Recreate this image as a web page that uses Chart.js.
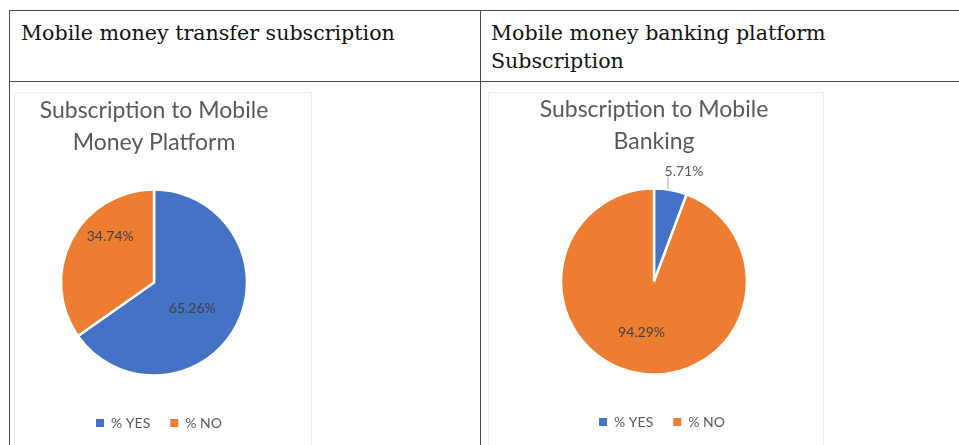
<!DOCTYPE html>
<html>
<head>
<meta charset="utf-8">
<script src="https://cdn.jsdelivr.net/npm/chart.js@4/dist/chart.umd.min.js"></script>
<style>
  html, body { margin: 0; padding: 0; background: #fff; }
  #page { position: relative; width: 959px; height: 445px; overflow: hidden; background: #fff; }
  .rule { position: absolute; background: #4a4a4a; }
  .head { position: absolute; font-family: "DejaVu Serif", serif; font-size: 20.6px; line-height: 28px; color: #111; white-space: nowrap; }
  .frame { position: absolute; border: 1px solid #efefef; background: #fff; }
  canvas.pie { position: absolute; filter: blur(0.6px); }
</style>
</head>
<body>
<div id="page">
  <!-- table rules -->
  <div class="rule" style="left:9px; top:10px; width:950px; height:1px;"></div>
  <div class="rule" style="left:9px; top:81px; width:950px; height:1px;"></div>
  <div class="rule" style="left:9px; top:10px; width:1px; height:435px;"></div>
  <div class="rule" style="left:480px; top:10px; width:1px; height:435px;"></div>

  <!-- header cells -->
  <div class="head" id="headLeft" style="left:21px; top:19px;"></div>
  <div class="head" id="headRight" style="left:491px; top:19px;"></div>

  <!-- chart picture frames -->
  <div class="frame" style="left:14px; top:92px; width:296px; height:360px;"></div>
  <div class="frame" style="left:488px; top:92px; width:334px; height:360px;"></div>

  <canvas class="pie" id="pieMoney" width="280" height="348" style="left:14px; top:92px;"></canvas>
  <canvas class="pie" id="pieBanking" width="280" height="348" style="left:514px; top:91px;"></canvas>
</div>

<script>
// Table header texts
const headerTexts = [
  ['Mobile money transfer subscription'],
  ['Mobile money banking platform', 'Subscription']
];

// Pie data
const categories = ['% YES', '% NO'];
const moneyPlatformShares = [65.26, 34.74];
const mobileBankingShares = [5.71, 94.29];
const moneyPlatformTitle = ['Subscription to Mobile', 'Money Platform'];
const mobileBankingTitle = ['Subscription to Mobile', 'Banking'];
const sliceColors = ['#4472C4', '#ED7D31'];

document.getElementById('headLeft').innerHTML = headerTexts[0].join('<br>');
document.getElementById('headRight').innerHTML = headerTexts[1].join('<br>');

// Draws each slice's percentage; placement is given per slice as
// a fraction along the slice's sweep (t) and of the radius (f).
const sliceLabels = {
  id: 'sliceLabels',
  afterDatasetsDraw(chart, args, opts) {
    const ctx = chart.ctx;
    const meta = chart.getDatasetMeta(0);
    const values = chart.data.datasets[0].data;
    ctx.save();
    ctx.font = '14px Lato, "Open Sans", sans-serif';
    ctx.textAlign = 'center';
    ctx.textBaseline = 'middle';
    meta.data.forEach((arc, i) => {
      const p = arc.getProps(['x', 'y', 'startAngle', 'endAngle', 'outerRadius'], true);
      const place = opts.places[i];
      const a = p.startAngle + place.t * (p.endAngle - p.startAngle);
      const text = values[i].toFixed(2) + '%';
      if (place.outside) {
        const ex = p.x + Math.cos(a) * p.outerRadius;
        const ey = p.y + Math.sin(a) * p.outerRadius;
        const topY = ey - 13;
        ctx.strokeStyle = '#a6a6a6';
        ctx.lineWidth = 1;
        ctx.beginPath();
        ctx.moveTo(ex, ey - 1);
        ctx.lineTo(ex, topY);
        ctx.stroke();
        ctx.fillStyle = '#595959';
        ctx.fillText(text, ex + 16, topY - 5);
      } else {
        const r = place.f * p.outerRadius;
        ctx.fillStyle = '#404040';
        ctx.fillText(text, p.x + Math.cos(a) * r, p.y + Math.sin(a) * r);
      }
    });
    ctx.restore();
  }
};

// Nudges the legend row sideways by a few pixels.
const legendShift = {
  id: 'legendShift',
  afterLayout(chart, args, opts) {
    if (chart.legend) {
      chart.legend.left += opts.dx;
      chart.legend.right += opts.dx;
    }
  }
};

function makePie(id, values, title, places, legendDx) {
  return new Chart(document.getElementById(id), {
    type: 'pie',
    data: {
      labels: categories,
      datasets: [{
        data: values,
        backgroundColor: sliceColors,
        borderColor: '#ffffff',
        borderWidth: 2.5
      }]
    },
    options: {
      responsive: false,
      animation: false,
      radius: 93,
      layout: { padding: 0 },
      plugins: {
        title: {
          display: true,
          text: title,
          color: '#595959',
          font: { family: 'Lato, "Open Sans", sans-serif', size: 23, weight: 'normal', lineHeight: 1.37 },
          padding: { top: 3, bottom: 11 }
        },
        legend: {
          position: 'bottom',
          labels: {
            color: '#595959',
            font: { family: 'Lato, "Open Sans", sans-serif', size: 14 },
            boxWidth: 8,
            boxHeight: 8,
            padding: 20,
            generateLabels(chart) {
              const items = Chart.overrides.pie.plugins.legend.labels.generateLabels(chart);
              items.forEach(it => { it.lineWidth = 0; it.strokeStyle = 'rgba(0,0,0,0)'; });
              return items;
            }
          }
        },
        tooltip: { enabled: false },
        sliceLabels: { places },
        legendShift: { dx: legendDx }
      }
    },
    plugins: [sliceLabels, legendShift]
  });
}

makePie('pieMoney', moneyPlatformShares, moneyPlatformTitle,
  [{ t: 0.53, f: 0.5 }, { t: 0.65, f: 0.68 }], 5);
makePie('pieBanking', mobileBankingShares, mobileBankingTitle,
  [{ t: 0.42, outside: true }, { t: 0.51, f: 0.565 }], 8);
</script>
</body>
</html>
